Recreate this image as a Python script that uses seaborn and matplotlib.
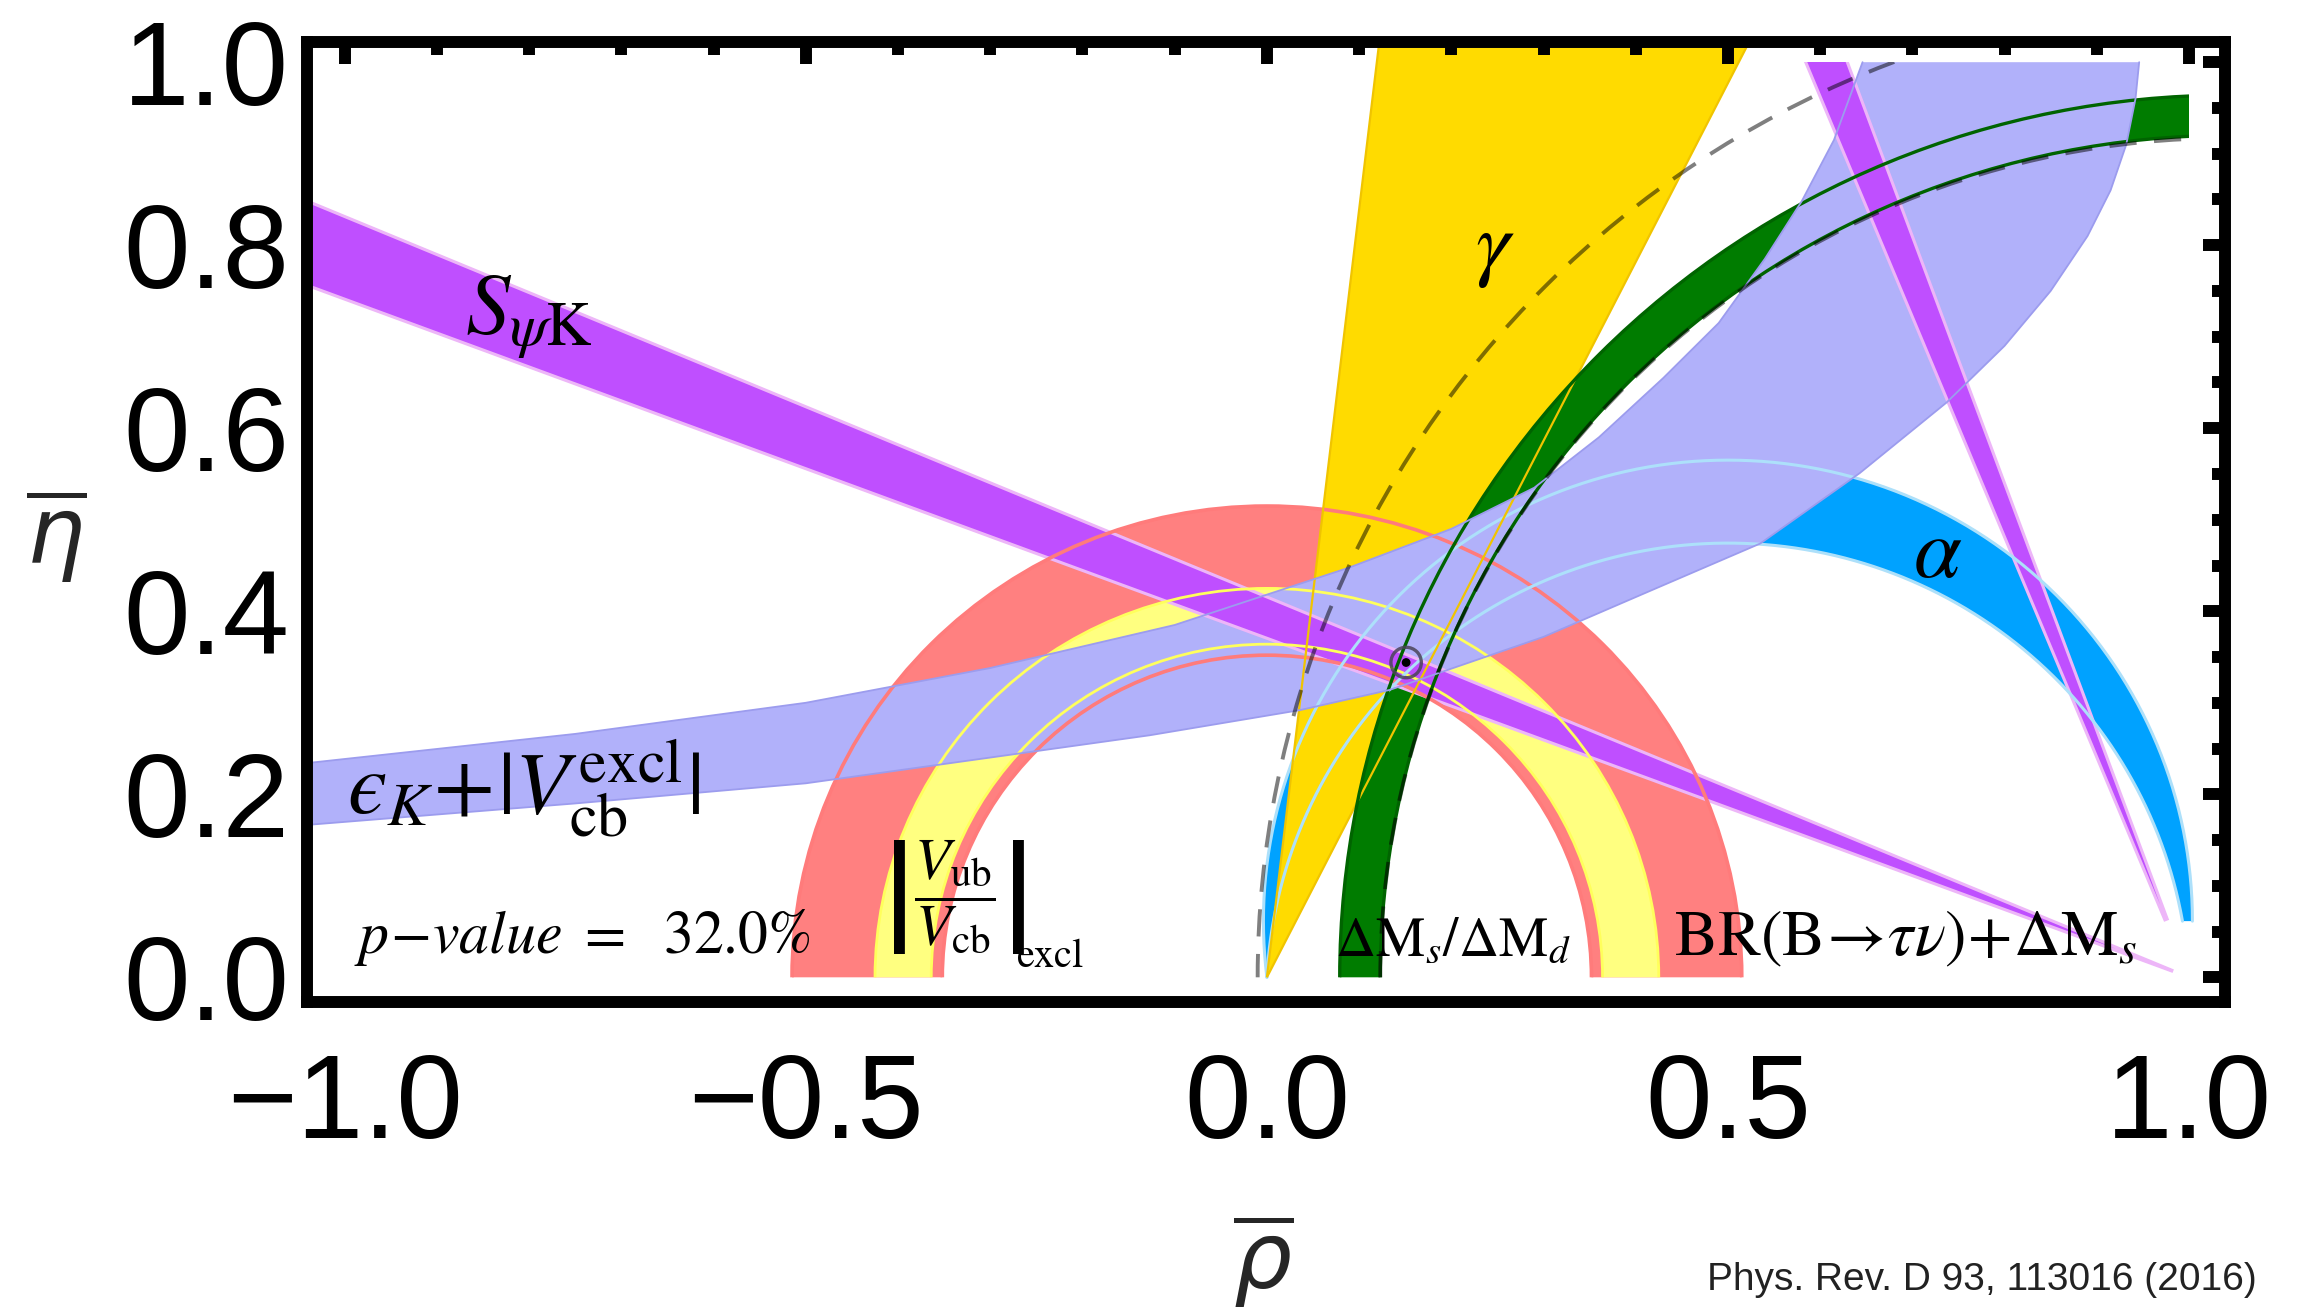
import numpy as np
import matplotlib
matplotlib.use("Agg")
import matplotlib.pyplot as plt
from matplotlib.patches import Wedge, Arc, Rectangle
from matplotlib.ticker import MultipleLocator
import seaborn as sns

sns.set_style("white")
plt.rcParams["font.family"] = ["Liberation Sans", "DejaVu Sans"]
plt.rcParams["mathtext.fontset"] = "stix"

# axes
x_range = [-1.041, 1.039]
y_range = [-0.027, 1.022]
x_major = [-1.0, -0.5, 0.0, 0.5, 1.0]
x_labels = ["\u22121.0", "\u22120.5", "0.0", "0.5", "1.0"]
y_major = [0.0, 0.2, 0.4, 0.6, 0.8, 1.0]
y_labels = ["0.0", "0.2", "0.4", "0.6", "0.8", "1.0"]

# |Vub/Vcb| rings around the origin (inner, outer radius)
vub_wide_r = [0.352, 0.515]
vub_excl_r = [0.364, 0.425]

# gamma wedge from the origin (deg)
gamma_deg = [62.9, 83.2]

# S_psiK: beta range (deg), rays from (1,0); inner cut of each band
beta_deg = [20.33, 22.57]
spsik_cut = [0.02, 0.068]

# alpha range (deg): arcs through (0,0) and (1,0)
alpha_deg = [83.0, 93.0]

# dMs/dMd ring, centre on the rho axis
dms_center = 1.043
dms_radius = [0.920, 0.964]

# BR(B->tau nu)+dMs dashed circles
btau_center = [1.06, 1.04]
btau_radius = [1.07, 0.917]

# eps_K + |Vcb excl| band edges
epsk_up_x = [-1.06, -0.75, -0.5, -0.3, -0.1, 0.09, 0.2, 0.29, 0.36, 0.43, 0.49, 0.54, 0.58, 0.615, 0.646]
epsk_up_y = [0.232, 0.266, 0.300, 0.338, 0.385, 0.448, 0.490, 0.535, 0.590, 0.655, 0.715, 0.785, 0.848, 0.915, 1.0]
epsk_lo_x = [-1.06, -0.75, -0.5, -0.127, 0.036, 0.133, 0.3, 0.415, 0.535, 0.643, 0.737, 0.80, 0.85, 0.89, 0.915, 0.932, 0.942, 0.946]
epsk_lo_y = [0.165, 0.190, 0.212, 0.2645, 0.292, 0.314, 0.372, 0.422, 0.474, 0.551, 0.628, 0.69, 0.75, 0.81, 0.86, 0.91, 0.96, 1.0]

fit_point = [0.151, 0.344]

fig = plt.figure(figsize=(22.98, 13.10), dpi=100)
ax = fig.add_axes([0.1336, 0.2351, 0.8346, 0.7328])
ax.set_xlim(*x_range)
ax.set_ylim(*y_range)

# bands stop at rho = 1 and eta = 1
box = Rectangle((x_range[0], y_range[0]), 1.0 - x_range[0], 1.0 - y_range[0],
                transform=ax.transData)


def add(p, clip=False):
    ax.add_patch(p)
    if clip:
        p.set_clip_path(box)
    return p


# |Vub/Vcb|
add(Wedge((0, 0), vub_wide_r[1], 0, 180, width=vub_wide_r[1] - vub_wide_r[0],
          facecolor="#FF8080", edgecolor="none", zorder=1))
add(Wedge((0, 0), vub_excl_r[1], 0, 180, width=vub_excl_r[1] - vub_excl_r[0],
          facecolor="#FFFF80", edgecolor="none", zorder=2))

# alpha
def alpha_circle(a):
    t = np.radians(a)
    return 0.5, 0.5 / np.tan(t), 0.5 / np.sin(t)

cx, k_o, r_o = alpha_circle(alpha_deg[0])
_, k_i, r_i = alpha_circle(alpha_deg[1])
th_o = np.linspace(np.arctan2(-k_o, -0.5) % (2 * np.pi), 0, 400)
th_i = np.linspace(np.arcsin((k_o - k_i) / r_i), np.arctan2(-k_i, -0.5), 400)
ao_x, ao_y = cx + r_o * np.cos(th_o), k_o + r_o * np.sin(th_o)
ai_x, ai_y = cx + r_i * np.cos(th_i), k_i + r_i * np.sin(th_i)
ax.fill(np.r_[ao_x, ai_x], np.r_[ao_y, ai_y], color="#00A2FF", lw=0, zorder=3)

# gamma
add(Wedge((0, 0), 1.4, gamma_deg[0], gamma_deg[1], facecolor="#FFDB00",
          edgecolor="none", zorder=4))

# dMs/dMd
add(Wedge((dms_center, 0), dms_radius[1], 90, 180, width=dms_radius[1] - dms_radius[0],
          facecolor="#007C00", edgecolor="none", zorder=5), clip=True)

# eps_K band
for p in ax.fill(np.r_[epsk_up_x, epsk_lo_x[::-1]], np.r_[epsk_up_y, epsk_lo_y[::-1]],
                 color="#B1B1FA", lw=0, zorder=6):
    p.set_clip_path(box)

# S_psiK
spsik_bands = [((180 - beta_deg[1], 180 - beta_deg[0]), 2.5, spsik_cut[0]),
               ((90 + beta_deg[0], 90 + beta_deg[1]), 1.3, spsik_cut[1])]
for (t1, t2), r_out, r_in in spsik_bands:
    add(Wedge((1, 0), r_out, t1, t2, width=r_out - r_in, facecolor="#BF4FFF",
              edgecolor="none", zorder=7), clip=True)
    add(Wedge((1, 0), r_out, t1, t2, width=r_out - r_in, fill=False,
              edgecolor="#EDB6F8", lw=2.2, zorder=8), clip=True)

# outlines
for r in vub_wide_r:
    add(Arc((0, 0), 2 * r, 2 * r, theta1=0, theta2=180, edgecolor="#FF7B7B", lw=2.6, zorder=8))
for r in vub_excl_r:
    add(Arc((0, 0), 2 * r, 2 * r, theta1=0, theta2=180, edgecolor="#FFFF5C", lw=2.0, zorder=8))
ax.plot(ao_x, ao_y, color="#ADE0FA", lw=2.2, zorder=8)
ax.plot(ai_x, ai_y, color="#ADE0FA", lw=2.2, zorder=8)
add(Wedge((0, 0), 1.4, gamma_deg[0], gamma_deg[1], fill=False, edgecolor="#F0C400",
          lw=1.6, zorder=8))
for r in dms_radius:
    add(Arc((dms_center, 0), 2 * r, 2 * r, theta1=90, theta2=180, edgecolor="#006400",
            lw=2.4, zorder=8), clip=True)
sns.lineplot(x=epsk_up_x, y=epsk_up_y, sort=False, estimator=None, ax=ax,
             color="#9C9CEE", lw=1.3, zorder=8)
sns.lineplot(x=epsk_lo_x, y=epsk_lo_y, sort=False, estimator=None, ax=ax,
             color="#9C9CEE", lw=1.3, zorder=8)

# BR(B->tau nu)+dMs
for c, r in zip(btau_center, btau_radius):
    add(Arc((c, 0), 2 * r, 2 * r, theta1=90, theta2=180, edgecolor="black", alpha=0.5,
            lw=2.8, ls=(0, (7, 4.5)), zorder=9), clip=True)

# best fit point
ax.scatter([fit_point[0]], [fit_point[1]], s=480, marker="o", facecolors="none",
           edgecolors="#4a4458", linewidths=2.4, alpha=0.85, zorder=10)
sns.scatterplot(x=[fit_point[0]], y=[fit_point[1]], s=40, color="black",
                edgecolor="none", ax=ax, zorder=11)

# labels inside the plot
txt = dict(math_fontfamily="stix", color="black", zorder=12)
ax.text(-0.80, 0.72, r"$S_{\psi\mathrm{K}}$", fontsize=64, ha="center", va="center", **txt)
ax.text(0.247, 0.795, r"$\gamma$", fontsize=62, ha="center", va="center", **txt)
ax.text(0.727, 0.462, r"$\alpha$", fontsize=62, ha="center", va="center", **txt)
ax.text(-0.998, 0.179, "$\u03f5_K\\!+\\!|V_{\\rm cb}^{\\rm excl}|$", fontsize=64,
        ha="left", va="baseline", **txt)
ax.text(-0.99, 0.027, r"$p\!-\!value\ =\ \ 32.0\%$", fontsize=43,
        ha="left", va="baseline", **txt)
ax.text(-0.34, 0.087, r"$\left|\dfrac{V_{\rm ub}}{V_{\rm cb}}\right|$",
        fontsize=42, ha="center", va="center", **txt)
ax.text(-0.272, 0.011, r"$\mathrm{excl}$", fontsize=29, ha="left", va="baseline", **txt)
ax.text(0.074, 0.024, r"$\Delta\mathrm{M}_s/\Delta\mathrm{M}_d$", fontsize=40,
        ha="left", va="baseline", **txt)
ax.text(0.441, 0.024, r"$\mathrm{BR(B}\!\rightarrow\!\tau\nu\mathrm{)\!+\!}\Delta\mathrm{M}_s$",
        fontsize=46.5, ha="left", va="baseline", **txt)

# axes styling
ax.set_xticks(x_major)
ax.set_xticklabels(x_labels)
ax.set_yticks(y_major)
ax.set_yticklabels(y_labels)
ax.xaxis.set_minor_locator(MultipleLocator(0.1))
ax.yaxis.set_minor_locator(MultipleLocator(0.05))
ax.tick_params(which="both", direction="in", top=True, right=True, color="black",
               width=8.6, labelcolor="black")
ax.tick_params(which="major", length=16, labelsize=86)
ax.tick_params(which="minor", length=9.5)
ax.tick_params(axis="x", which="major", pad=36)
ax.tick_params(axis="y", which="major", pad=13)
for s in ax.spines.values():
    s.set_linewidth(8.6)
    s.set_color("black")
    s.set_zorder(30)
ax.xaxis.set_zorder(30)
ax.yaxis.set_zorder(30)

ax.set_xlabel(r"$\overline{\rho}$", fontsize=66, math_fontfamily="dejavusans")
ax.set_ylabel(r"$\overline{\eta}$", fontsize=66, math_fontfamily="dejavusans",
              rotation=0, va="center", ha="center")
ax.xaxis.label.set_va("center")
ax.xaxis.set_label_coords(0.4985, -0.269)
ax.yaxis.set_label_coords(-0.131, 0.486)

fig.text(0.982, 0.015, "Phys. Rev. D 93, 113016 (2016)", fontsize=28,
         ha="right", va="baseline", color="#222222")

fig.savefig("out.png", dpi=100)
